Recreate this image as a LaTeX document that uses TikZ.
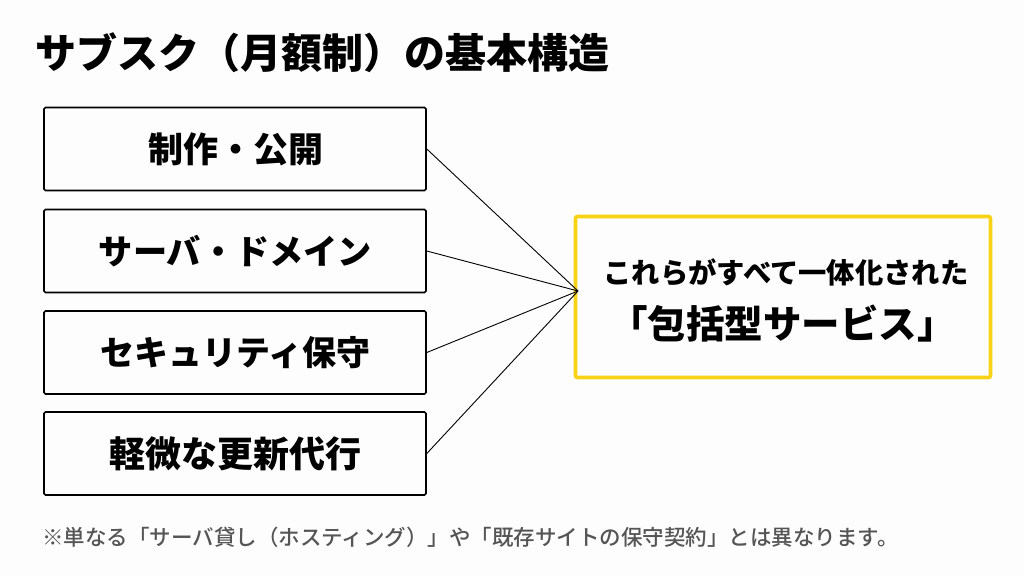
\documentclass[tikz,border=0pt]{standalone}
\usepackage{fontspec}
\newfontfamily\cjk[BoldFont={Noto Sans CJK JP Black}]{Noto Sans CJK JP Medium}
\definecolor{accent}{HTML}{F8D215}
\definecolor{paper}{HTML}{FDFDFD}
\definecolor{note}{HTML}{555555}
\newcommand{\itemsize}[1]{\fontsize{#1}{40}\selectfont}
\tikzset{
	itembox/.style={draw=black, line width=1.6pt, rounded corners=1.5pt, minimum width=382pt, minimum height=83pt, inner sep=0pt, font=\cjk\bfseries},
	hubbox/.style={draw=accent, line width=3.6pt, rounded corners=2pt, minimum width=415pt, minimum height=161pt, inner sep=0pt},
	link/.style={draw=black, line width=0.9pt}
}
\begin{document}
\begin{tikzpicture}[x=1pt, y=-1pt]
	\fill[paper] (0,0) rectangle (1024,576);
	\useasboundingbox (0,0) rectangle (1024,576);

	\node[anchor=west, inner sep=0pt, font=\cjk\bfseries\fontsize{41}{48}\selectfont] (title) at (35,53) {サブスク（月額制）の基本構造};

	\node[itembox] (make) at (235,149) {\itemsize{35}\hspace{2pt}制作・公開};
	\node[itembox] (server) at (235,251) {\itemsize{34.2}\hspace{1pt}サーバ・ドメイン};
	\node[itembox] (secure) at (235,352.5) {\itemsize{34}セキュリティ保守};
	\node[itembox] (update) at (235,453.5) {\itemsize{36}軽微な更新代行};

	\node[hubbox] (hub) at (783,297) {};
	\node[font=\cjk\bfseries\fontsize{28.3}{32}\selectfont, inner sep=0pt] (lead) at (786,272) {これらがすべて一体化された};
	\node[font=\cjk\bfseries\fontsize{38.5}{44}\selectfont, inner sep=0pt] (name) at (782.5,323.5) {「包括型サービス」};

	\coordinate (meet) at (578,291);
	\draw[link] (make.east) -- (meet);
	\draw[link] (server.east) -- (meet);
	\draw[link] (secure.east) -- (meet);
	\draw[link] (update.east) -- (meet);

	\node[anchor=west, inner sep=0pt, text=note, font=\cjk\fontsize{21.5}{26}\selectfont] (footnote) at (42,537) {※単なる「サーバ貸し（ホスティング）」や「既存サイトの保守契約」とは異なります。};
\end{tikzpicture}
\end{document}
